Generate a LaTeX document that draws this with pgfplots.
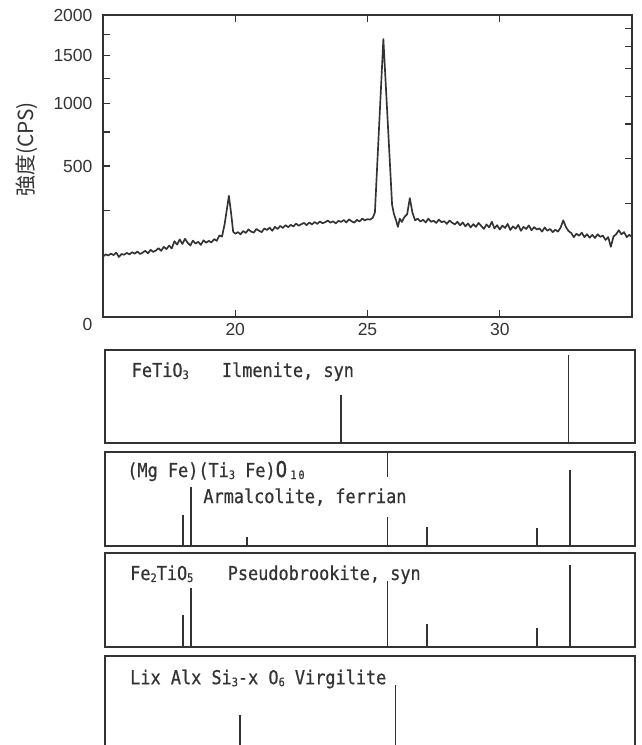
\documentclass[border=0pt]{standalone}
\usepackage{pgfplots}
\pgfplotsset{compat=1.18}
\usepackage{fontspec}
\setmainfont{Liberation Sans}
\newfontfamily\cjk{Noto Sans CJK JP}
\newfontfamily\monof{DejaVu Sans Mono}[FakeStretch=0.88, FakeBold=0.6]
\definecolor{ink}{gray}{0.2}
\newcommand{\sub}[1]{\raisebox{-1.2pt}{\fontsize{7}{7}\selectfont #1}}
\pgfplotsset{
  sqrty/.style={
    y coord trafo/.code={\pgfmathparse{sqrt(##1)}},
    y coord inv trafo/.code={\pgfmathparse{(##1)^2}},
  },
  panel/.style={
    scale only axis, width=318pt, xmin=15.076, xmax=35.11, ymin=0, ymax=1,
    axis line style={line width=1.3pt, ink}, xtick=\empty, ytick=\empty, clip=false,
  },
  stick/.style={ycomb, no markers, ink, line width=1.05pt},
}
\tikzset{lbl/.style={anchor=base west, inner sep=0pt, font=\monof\fontsize{11.5}{13}\selectfont, text=ink}}
\begin{document}
\begin{tikzpicture}[x=1pt,y=1pt]
\path[use as bounding box] (0,0) rectangle (385.2,-447);
\clip (0,0) rectangle (385.2,-447);

% ---------------- main diffraction pattern ----------------
\begin{axis}[
  sqrty,
  at={(61.8pt,-190.2pt)}, anchor=south west,
  scale only axis, width=317.4pt, height=181.2pt,
  xmin=15, xmax=35, ymin=0, ymax=2000,
  xtick={20,25,30}, xtick pos=both,
  ytick={0,500,1000,1500,2000},
  yticklabels={\raisebox{-8pt}[0pt][0pt]{0},500,1000,1500,2000},
  minor ytick={250,750,1250,1750}, ytick pos=left,
  tick align=inside, major tick length=4pt, minor tick length=4pt,
  axis line style={line width=1.2pt, ink},
  tick style={line width=0.7pt, ink},
  ticklabel style={font=\fontsize{10.5}{12}\selectfont, text=ink},
  yticklabel style={xshift=-2.8pt},
  /pgf/number format/assume math mode=true,
  ylabel={\cjk 強度(CPS)},
  ylabel style={at={(axis description cs:-0.144,0.555)}, anchor=center,
    font=\fontsize{12.5}{14}\selectfont, text=ink},
]
\addplot[ink, line width=1pt, line join=round, no markers] coordinates {
(15.0,80)(15.1,86)(15.2,83)(15.3,88)(15.4,84)(15.5,91)(15.6,79)(15.7,87)(15.8,85)(15.9,90)
(16.0,86)(16.1,92)(16.2,88)(16.3,94)(16.4,87)(16.5,91)(16.6,96)(16.7,89)(16.8,99)(16.9,93)
(17.0,97)(17.1,104)(17.2,96)(17.3,108)(17.4,101)(17.5,112)(17.6,103)(17.7,126)(17.8,115)(17.9,132)
(18.0,117)(18.1,134)(18.2,121)(18.3,112)(18.4,128)(18.5,118)(18.6,124)(18.7,114)(18.8,129)(18.9,121)
(19.0,127)(19.1,122)(19.2,133)(19.3,127)(19.4,146)(19.5,142)(19.6,190)(19.76,322)(19.85,230)(19.92,160)
(20.0,152)(20.1,158)(20.2,150)(20.3,162)(20.4,155)(20.5,168)(20.6,160)(20.7,156)(20.8,170)(20.9,163)
(21.0,158)(21.1,172)(21.2,166)(21.3,175)(21.4,163)(21.5,178)(21.6,170)(21.7,182)(21.8,174)(21.9,185)
(22.0,177)(22.1,186)(22.2,180)(22.3,191)(22.4,183)(22.5,189)(22.6,194)(22.7,185)(22.8,196)(22.9,188)
(23.0,198)(23.1,190)(23.2,200)(23.3,193)(23.4,197)(23.5,204)(23.6,195)(23.7,201)(23.8,192)(23.9,203)
(24.0,198)(24.1,206)(24.2,196)(24.3,209)(24.4,201)(24.5,195)(24.6,207)(24.7,200)(24.8,212)(24.9,205)
(25.0,210)(25.1,208)(25.2,216)(25.28,240)(25.6,1695)(25.93,275)(26.0,232)(26.08,205)(26.15,178)(26.22,212)
(26.3,198)(26.4,220)(26.5,232)(26.6,310)(26.7,238)(26.8,205)(26.9,212)
(27.0,200)(27.1,207)(27.2,196)(27.3,212)(27.4,199)(27.5,203)(27.6,194)(27.7,208)(27.8,197)(27.9,201)
(28.0,190)(28.1,204)(28.2,195)(28.3,188)(28.4,199)(28.5,184)(28.6,196)(28.7,180)(28.8,192)(28.9,176)
(29.0,189)(29.1,178)(29.2,194)(29.3,182)(29.4,170)(29.5,188)(29.6,176)(29.7,199)(29.8,172)(29.9,185)
(30.0,168)(30.1,183)(30.2,174)(30.3,190)(30.4,166)(30.5,180)(30.6,171)(30.7,186)(30.8,163)(30.9,178)
(31.0,170)(31.1,184)(31.2,165)(31.3,177)(31.4,168)(31.5,172)(31.6,160)(31.7,176)(31.8,163)(31.9,170)
(32.0,158)(32.1,167)(32.2,160)(32.3,175)(32.4,205)(32.5,178)(32.6,162)(32.7,155)(32.8,140)(32.9,152)
(33.0,145)(33.1,156)(33.2,140)(33.3,150)(33.4,138)(33.5,148)(33.6,137)(33.7,150)(33.8,141)(33.9,145)
(34.0,130)(34.1,140)(34.2,108)(34.3,142)(34.4,150)(34.5,165)(34.6,150)(34.7,158)(34.8,140)(34.9,148)
(35.0,140)
};
\end{axis}

% right-hand inner ticks
\begin{axis}[
  sqrty,
  at={(61.8pt,-190.2pt)}, anchor=south west,
  scale only axis, width=317.4pt, height=181.2pt,
  xmin=15, xmax=35, ymin=0, ymax=2000,
  axis y line*=right, axis x line=none,
  y axis line style={draw=none},
  ytick={283,552,817,1064,1356,1602,1828}, yticklabels={},
  tick align=inside, major tick length=4pt,
  tick style={line width=0.7pt, ink},
]
\end{axis}

% ---------------- panel 1: Ilmenite ----------------
\begin{axis}[panel, at={(63pt,-265.8pt)}, anchor=south west, height=55.8pt]
\addplot[stick] coordinates {(24.0,0.52)(32.6,0.95)};
\node[lbl] at (rel axis cs:0.05,0.71) {FeTiO\sub{3}};
\node[lbl] at (rel axis cs:0.22,0.71) {Ilmenite, syn};
\end{axis}

% ---------------- panel 2: Armalcolite ----------------
\begin{axis}[panel, at={(63pt,-327.6pt)}, anchor=south west, height=56.4pt]
\addplot[stick] coordinates {(18.02,0.33)(18.33,0.63)(20.44,0.095)(25.75,1.0)(27.25,0.2)(31.4,0.19)(32.66,0.81)};
\node[lbl, fill=white, text height=15.6pt, text depth=8.4pt, inner xsep=1pt, xshift=-1pt]
  at (rel axis cs:0.185,0.457) {Armalcolite, ferrian};
\node[lbl] at (rel axis cs:0.0415,0.734) {(Mg Fe)(Ti\sub{3} Fe){\fontsize{13}{13}\selectfont O}\,\sub{1\,0}};
\end{axis}

% ---------------- panel 3: Pseudobrookite ----------------
\begin{axis}[panel, at={(63pt,-388.2pt)}, anchor=south west, height=56.4pt]
\addplot[stick] coordinates {(18.02,0.34)(18.33,0.63)(25.75,0.70)(27.25,0.24)(31.4,0.2)(32.66,0.87)};
\node[lbl] at (rel axis cs:0.047,0.713) {Fe\sub{2}TiO\sub{5}};
\node[lbl] at (rel axis cs:0.231,0.713) {Pseudobrookite, syn};
\end{axis}

% ---------------- panel 4: Virgilite ----------------
\begin{axis}[panel, at={(63pt,-450pt)}, anchor=south west, height=56.4pt]
\addplot[stick] coordinates {(20.18,0.37)(26.06,0.69)};
\node[lbl] at (rel axis cs:0.047,0.70) {Lix Alx Si\sub{3}-x O\sub{6} Virgilite};
\end{axis}
\end{tikzpicture}
\end{document}
